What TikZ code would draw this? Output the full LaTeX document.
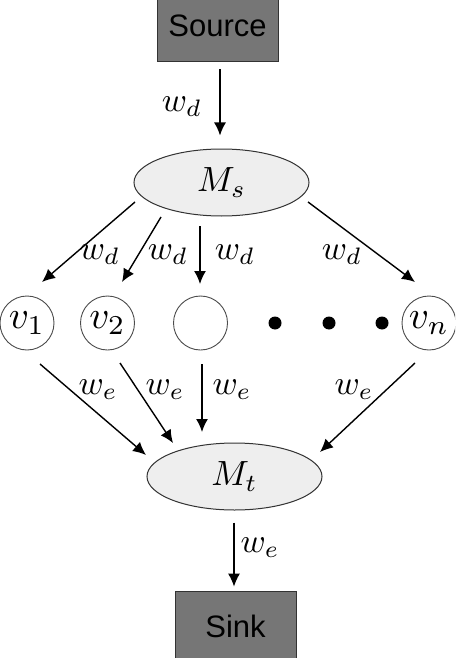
\documentclass[tikz,border=0pt]{standalone}
\usepackage{graphicx}
\usepackage{fontspec}
\setsansfont{Liberation Sans}
\usetikzlibrary{arrows.meta,calc,shapes.geometric}
\definecolor{boxgray}{RGB}{118,118,118}
\definecolor{ellgray}{RGB}{238,238,238}
\newcommand{\mlbl}[2][3.4]{\scalebox{#1}{$#2$}}
\begin{document}
\begin{tikzpicture}[x=1pt,y=-1pt,
 arr/.style={line width=1.4pt,-{Latex[length=13pt,width=12pt]}},
 lbl/.style={inner sep=0pt},
 boxnode/.style={draw=black!80,line width=0.8pt,fill=boxgray,minimum width=121pt,minimum height=70pt,font=\sffamily\fontsize{31}{37}\selectfont,inner sep=0pt},
 ell/.style={ellipse,draw=black!80,line width=1pt,fill=ellgray,minimum width=175pt,minimum height=67pt,inner sep=0pt},
 vnode/.style={circle,draw=black!70,line width=0.9pt,minimum size=54pt,inner sep=0pt},
 dotnode/.style={circle,fill=black,minimum size=13pt,inner sep=0pt}]
\clip (0,0) rectangle (455,658);
\fill[white] (0,0) rectangle (455,658);
\node[boxnode] (src) at (217.5,26) {Source};
\node[boxnode] (snk) at (235.5,626) {Sink};
\node[ell] (ms) at (221.5,182.5) {\mlbl[3.5]{M_s}};
\node[ell] (mt) at (234.5,476.5) {\mlbl[3.5]{M_t}};
\node[vnode] (v1) at (27,323) {\mlbl[3.9]{v_1}};
\node[vnode] (v2) at (107.5,323) {\mlbl[3.9]{v_2}};
\node[vnode] (v3) at (200.5,323) {};
\node[vnode] (vn) at (429,323) {\mlbl[3.9]{v_n}};
\node[dotnode] (d1) at (275,323) {};
\node[dotnode] (d2) at (329,323) {};
\node[dotnode] (d3) at (382,323) {};
% arrows
\draw[arr] ($(src.south)+(2.5,8)$) -- ($(ms.north)+(-1.5,-13)$);
\draw[arr] ($(ms)+(-86.5,19.5)$) -- ($(v1)+(15,-41)$);
\draw[arr] ($(ms)+(-60.5,34.5)$) -- ($(v2)+(14.5,-41)$);
\draw[arr] ($(ms)+(-21.5,43.5)$) -- ($(v3)+(-0.5,-39)$);
\draw[arr] ($(ms)+(86.5,19.5)$) -- ($(vn)+(-14,-41)$);
\draw[arr] ($(v1)+(13,41)$) -- ($(mt)+(-88.5,-21.5)$);
\draw[arr] ($(v2)+(12.5,40)$) -- ($(mt)+(-61.5,-33.5)$);
\draw[arr] ($(v3)+(1.5,41)$) -- ($(mt)+(-32.5,-44.5)$);
\draw[arr] ($(vn)+(-14,40)$) -- ($(mt)+(85.5,-24.5)$);
\draw[arr] ($(mt.south)+(-0.5,12)$) -- ($(snk.north)+(-1.5,-4)$);
% labels
\node[lbl] (l0) at (182,107) {\mlbl{w_d}};
\node[lbl] (l1) at (100,255) {\mlbl{w_d}};
\node[lbl] (l2) at (168,255) {\mlbl{w_d}};
\node[lbl] (l3) at (235,255) {\mlbl{w_d}};
\node[lbl] (l4) at (342,255) {\mlbl{w_d}};
\node[lbl] (l5) at (98,390) {\mlbl{w_e}};
\node[lbl] (l6) at (165,390) {\mlbl{w_e}};
\node[lbl] (l7) at (232,390) {\mlbl{w_e}};
\node[lbl] (l8) at (354,390) {\mlbl{w_e}};
\node[lbl] (l9) at (260,548) {\mlbl{w_e}};
\end{tikzpicture}
\end{document}
